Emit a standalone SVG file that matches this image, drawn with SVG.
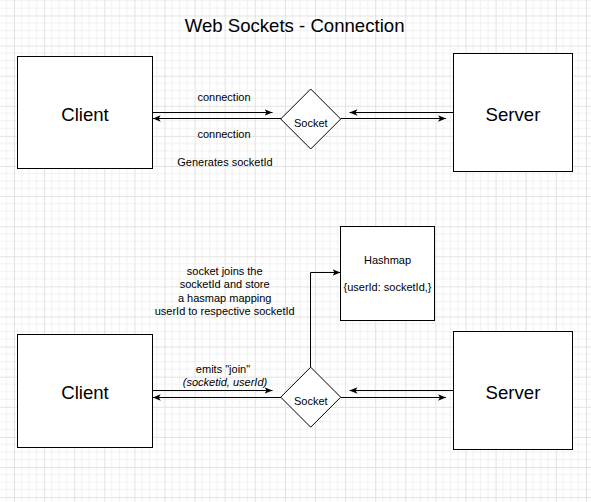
<svg xmlns="http://www.w3.org/2000/svg" width="591" height="502" viewBox="0 0 591 502">
<defs>
<pattern id="grid" patternUnits="userSpaceOnUse" x="14" y="15.5" width="30.1" height="30.1">
<rect width="30.1" height="30.1" fill="#ffffff"/>
<path d="M7.525,0V30.1M15.05,0V30.1M22.575,0V30.1M0,7.525H30.1M0,15.05H30.1M0,22.575H30.1" stroke="#f1f1f1" stroke-width="1" fill="none"/>
<path d="M0.5,0V30.1M0,0.5H30.1" stroke="#e2e2e2" stroke-width="1" fill="none"/>
</pattern>
<marker id="arr" markerUnits="userSpaceOnUse" viewBox="0 0 10 10" refX="10" refY="5" markerWidth="8" markerHeight="8" orient="auto">
<path d="M0,1 L10,5 L0,9 L2.5,5 Z" fill="#000"/>
</marker>
<style>
.box{fill:#fff;stroke:#000;stroke-width:1}
.big{font-family:"Liberation Sans",Arial,sans-serif;font-size:18.6px;fill:#000;text-anchor:middle}
.sm{font-family:"Liberation Sans",Arial,sans-serif;font-size:11px;fill:#000;text-anchor:middle}
.conn{fill:none;stroke:#000;stroke-width:1;marker-end:url(#arr)}
</style>
</defs>
<rect width="591" height="502" fill="url(#grid)"/>
<text class="big" x="294.6" y="31.7" font-size="18.7">Web Sockets - Connection</text>

<g id="client-top"><rect class="box" x="17.5" y="56.5" width="135" height="112"/><text class="big" x="85" y="120.7">Client</text></g>
<g id="server-top"><rect class="box" x="453.5" y="53.5" width="119" height="118"/><text class="big" x="513" y="120.7">Server</text></g>
<g id="socket-top"><polygon class="box" points="310.7,89 340.7,119 310.7,149 280.7,119"/><text class="sm" x="310.8" y="126.7">Socket</text></g>

<g id="client-bottom"><rect class="box" x="17.5" y="334.5" width="135" height="113"/><text class="big" x="85" y="399.4">Client</text></g>
<g id="server-bottom"><rect class="box" x="453.5" y="331.5" width="119" height="118"/><text class="big" x="513" y="399.4">Server</text></g>
<g id="socket-bottom"><polygon class="box" points="310.7,367.2 340.7,397.2 310.7,427.2 280.7,397.2"/><text class="sm" x="310.8" y="405.3">Socket</text></g>
<g id="hashmap"><rect class="box" x="340.5" y="226.5" width="94" height="94"/><text class="sm" x="387.5" y="264">Hashmap</text><text class="sm" x="387.5" y="291">{userId: socketId,}</text></g>

<g id="connectors">
<path class="conn" d="M152.5,112.5H272.5"/>
<path class="conn" d="M281,118.5H152.7"/>
<path class="conn" d="M453,112.5H349.5"/>
<path class="conn" d="M341,118.5H446"/>
<path class="conn" d="M152.5,390.5H272.5"/>
<path class="conn" d="M281,397.5H152.7"/>
<path class="conn" d="M453,390.5H349.5"/>
<path class="conn" d="M341,397.5H446"/>
<path class="conn" d="M310.5,367.2V272.5H340.5"/>
</g>

<g id="labels">
<text class="sm" x="224" y="101">connection</text>
<text class="sm" x="224" y="138.3">connection</text>
<text class="sm" x="225" y="166">Generates socketId</text>
<text class="sm" x="224.7" y="275">socket joins the</text>
<text class="sm" x="224.7" y="288.3">socketId and store</text>
<text class="sm" x="224.7" y="301.7">a hasmap mapping</text>
<text class="sm" x="224.7" y="315">userId to respective socketId</text>
<text class="sm" x="223" y="373.3">emits "join"</text>
<text class="sm" x="225" y="386" font-style="italic">(socketid, userId)</text>
</g>
</svg>
